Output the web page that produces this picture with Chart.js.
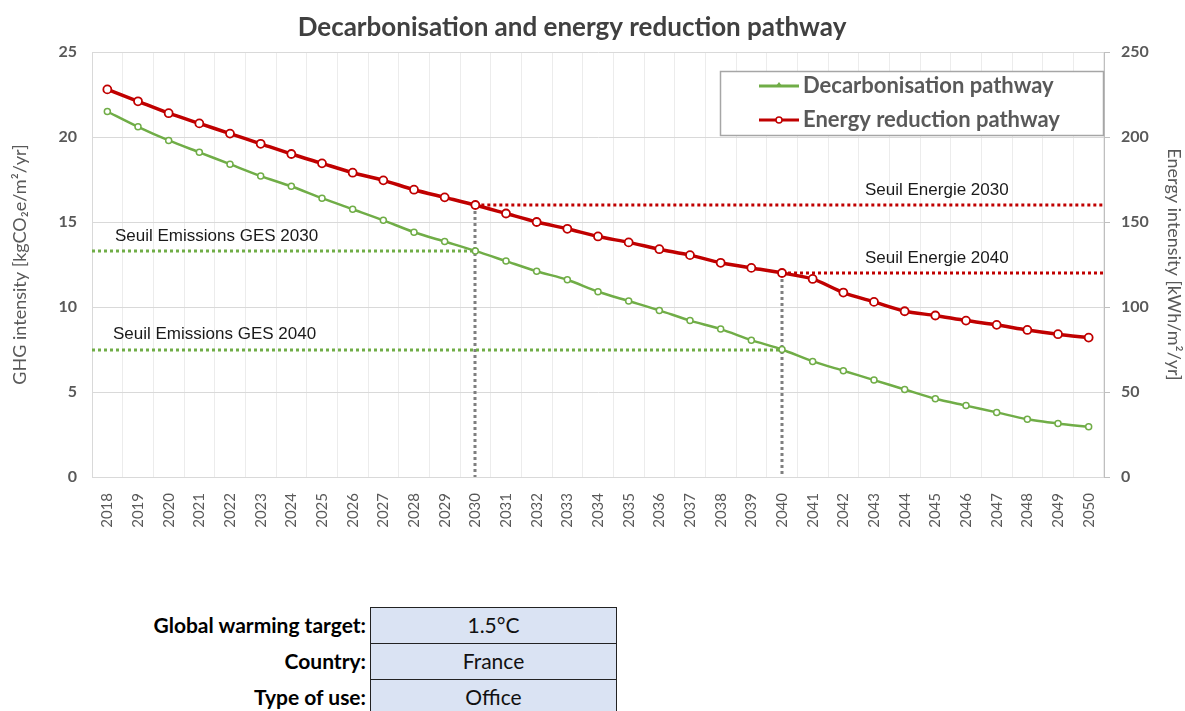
<!DOCTYPE html>
<html>
<head>
<meta charset="utf-8">
<script src="https://cdn.jsdelivr.net/npm/chart.js@4.4.1/dist/chart.umd.min.js"></script>
<style>
  html, body { margin:0; padding:0; background:#fff; }
  body { width:1185px; height:711px; position:relative; overflow:hidden; font-family:Lato, "Open Sans", sans-serif; }
  #wrap { position:absolute; left:0; top:0; width:1185px; height:560px; }
  .lbl { position:absolute; right:819px; font-weight:bold; font-size:21px; color:#000; text-align:right; white-space:nowrap; }
  .cell { position:absolute; left:370px; width:247px; background:#DAE3F3; border:1.5px solid #222; box-sizing:border-box; text-align:center; font-size:21px; color:#111; }
</style>
</head>
<body>
<div id="wrap"><canvas id="c" width="1185" height="560"></canvas></div>

<div class="lbl" style="top:612px;">Global warming target:</div>
<div class="lbl" style="top:648px;">Country:</div>
<div class="lbl" style="top:684px;">Type of use:</div>
<div class="cell" style="top:607px;height:37px;line-height:33px;">1.5°C</div>
<div class="cell" style="top:643px;height:37px;line-height:33px;">France</div>
<div class="cell" style="top:679px;height:40px;line-height:33px;">Office</div>

<script>
// ---- data ----
const chartTitle = 'Decarbonisation and energy reduction pathway';
const years = ['2018','2019','2020','2021','2022','2023','2024','2025','2026','2027','2028','2029','2030','2031','2032','2033','2034','2035','2036','2037','2038','2039','2040','2041','2042','2043','2044','2045','2046','2047','2048','2049','2050'];
const ghgIntensity = [21.5,20.6,19.8,19.1,18.4,17.7,17.1,16.4,15.75,15.1,14.4,13.85,13.3,12.7,12.1,11.6,10.9,10.35,9.8,9.2,8.7,8.05,7.5,6.8,6.25,5.7,5.15,4.6,4.2,3.8,3.4,3.15,2.95];
const energyIntensity = [228,221,214,208,202,196,190,184.5,179,174.5,169,164.5,160,155,150,146,141.5,138,134,130.5,126,123,120,116.5,108.5,103,97.5,95,92,89.5,86.5,84,82];
const seriesNames = ['Decarbonisation pathway','Energy reduction pathway'];
const thresholdYears = ['2030','2040'];
const gesThresholds = [13.3, 7.5];
const gesLabels = ['Seuil Emissions GES 2030','Seuil Emissions GES 2040'];
const energyThresholds = [160, 120];
const energyLabels = ['Seuil Energie 2030','Seuil Energie 2040'];
const leftTicks = [0,5,10,15,20,25];
const rightTicks = [0,50,100,150,200,250];

const GREEN = '#70AD47', RED = '#C00000', GREY = '#595959';

const thresholdPlugin = {
  id: 'thresholds',
  beforeDatasetsDraw(chart) {
    const {ctx, chartArea: a, scales} = chart;
    const x = scales.x, y = scales.y, y2 = scales.y2;
    const xp = yr => x.getPixelForValue(years.indexOf(yr));
    ctx.save();
    ctx.lineWidth = 3;
    ctx.setLineDash([3, 3]);
    ctx.lineCap = 'butt';
    ctx.strokeStyle = '#7f7f7f';
    thresholdYears.forEach((yr, i) => {
      const px = Math.round(xp(yr));
      ctx.beginPath();
      ctx.moveTo(px, y2.getPixelForValue(energyThresholds[i]));
      ctx.lineTo(px, y.getPixelForValue(0));
      ctx.stroke();
    });
    ctx.strokeStyle = GREEN;
    gesThresholds.forEach((v, i) => {
      const py = Math.round(y.getPixelForValue(v));
      ctx.beginPath();
      ctx.moveTo(a.left, py);
      ctx.lineTo(xp(thresholdYears[i]), py);
      ctx.stroke();
    });
    ctx.strokeStyle = RED;
    energyThresholds.forEach((v, i) => {
      const py = Math.round(y2.getPixelForValue(v));
      ctx.beginPath();
      ctx.moveTo(xp(thresholdYears[i]), py);
      ctx.lineTo(a.right, py);
      ctx.stroke();
    });
    ctx.setLineDash([]);
    ctx.fillStyle = '#1a1a1a';
    ctx.font = '17px "Liberation Sans", Arial, sans-serif';
    ctx.textBaseline = 'middle';
    ctx.textAlign = 'left';
    gesThresholds.forEach((v, i) => {
      ctx.fillText(gesLabels[i], a.left + 23 - i * 2, y.getPixelForValue(v) - 15);
    });
    energyThresholds.forEach((v, i) => {
      ctx.fillText(energyLabels[i], a.right - 239, y2.getPixelForValue(v) - 15);
    });
    ctx.restore();
  },
  afterDraw(chart) {
    const {ctx, chartArea: a} = chart;
    ctx.save();
    // title
    ctx.fillStyle = '#404040';
    ctx.font = 'bold 26px Lato, sans-serif';
    ctx.textAlign = 'center';
    ctx.textBaseline = 'middle';
    ctx.fillText(chartTitle, 572, 28);
    // legend
    const bx = a.right - 384, by = a.top + 19, bw = 383, bh = 64;
    ctx.fillStyle = '#fff';
    ctx.fillRect(bx, by, bw, bh);
    ctx.strokeStyle = '#a6a6a6';
    ctx.lineWidth = 1.5;
    ctx.strokeRect(bx + 0.5, by + 0.5, bw, bh);
    const entries = [{c: GREEN, y: by + 15, m: 'tri'}, {c: RED, y: by + 49, m: 'circ'}];
    entries.forEach((e, i) => {
      ctx.strokeStyle = e.c;
      ctx.lineWidth = 3;
      ctx.beginPath();
      ctx.moveTo(bx + 39, e.y);
      ctx.lineTo(bx + 79, e.y);
      ctx.stroke();
      if (e.m === 'circ') {
        ctx.fillStyle = '#fff';
        ctx.lineWidth = 1.5;
        ctx.beginPath();
        ctx.arc(bx + 59, e.y, 3, 0, Math.PI * 2);
        ctx.fill(); ctx.stroke();
      } else {
        ctx.fillStyle = e.c;
        ctx.beginPath();
        ctx.moveTo(bx + 59, e.y - 4);
        ctx.lineTo(bx + 62, e.y);
        ctx.lineTo(bx + 56, e.y);
        ctx.closePath();
        ctx.fill();
      }
      ctx.fillStyle = GREY;
      ctx.font = 'bold 22px Lato, sans-serif';
      ctx.textAlign = 'left';
      ctx.textBaseline = 'middle';
      ctx.fillText(seriesNames[i], bx + 83, e.y);
    });
    ctx.restore();
  }
};

new Chart(document.getElementById('c'), {
  type: 'line',
  data: {
    labels: years,
    datasets: [
      {
        label: seriesNames[0], data: ghgIntensity, yAxisID: 'y',
        borderColor: GREEN, borderWidth: 2.5, tension: 0.25,
        pointRadius: 3, pointBorderWidth: 1.5, pointBackgroundColor: '#fff', pointBorderColor: GREEN
      },
      {
        label: seriesNames[1], data: energyIntensity, yAxisID: 'y2',
        borderColor: RED, borderWidth: 3.5, tension: 0.25,
        pointRadius: 4, pointBorderWidth: 1.8, pointBackgroundColor: '#fff', pointBorderColor: RED
      }
    ]
  },
  options: {
    responsive: false,
    animation: false,
    devicePixelRatio: 1,
    layout: { padding: { top: 52, left: 0, right: 0, bottom: 0 } },
    plugins: {
      legend: { display: false },
      tooltip: { enabled: false },
      title: { display: false }
    },
    scales: {
      x: {
        offset: true,
        grid: { offset: true, color: '#ececec', drawTicks: false },
        border: { color: '#d9d9d9' },
        ticks: {
          autoSkip: false, minRotation: 90, maxRotation: 90, padding: 16,
          color: GREY, font: { family: 'Lato', size: 15 }
        },
        afterFit(s) { s.height = 83; }
      },
      y: {
        position: 'left', min: 0, max: 25,
        afterBuildTicks(s) { s.ticks = leftTicks.map(v => ({value: v})); },
        grid: { color: '#d9d9d9', drawTicks: false },
        border: { color: '#d9d9d9' },
        ticks: { padding: 15, color: GREY, font: { family: 'Lato', size: 16, weight: 'bold' } },
        title: {
          display: true, text: 'GHG intensity [kgCO\u2082e/m\u00b2/yr]', color: GREY,
          font: { family: 'Lato', size: 18 }, padding: { top: 9, bottom: 0 }
        },
        afterFit(s) { s.width = 92; }
      },
      y2: {
        position: 'right', min: 0, max: 250,
        afterBuildTicks(s) { s.ticks = rightTicks.map(v => ({value: v})); },
        grid: { drawOnChartArea: false, color: '#bfbfbf', tickLength: 6 },
        border: { color: '#bfbfbf' },
        ticks: { padding: 11, color: GREY, font: { family: 'Lato', size: 16, weight: 'bold' } },
        title: {
          display: true, text: 'Energy intensity [kWh/m\u00b2/yr]', color: GREY,
          font: { family: 'Lato', size: 18 }, padding: { top: 0, bottom: 0 }
        },
        afterFit(s) { s.width = 81; }
      }
    }
  },
  plugins: [thresholdPlugin]
});
</script>
</body>
</html>
